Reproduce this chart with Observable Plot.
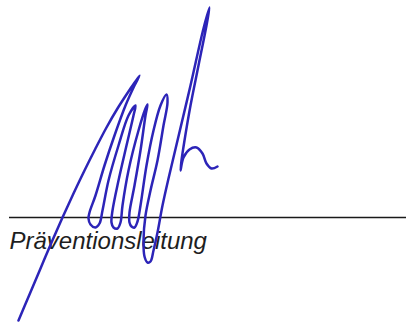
<!DOCTYPE html>
<html>
<head>
<meta charset="utf-8">
<script src="https://cdn.jsdelivr.net/npm/d3@7"></script>
<script src="https://cdn.jsdelivr.net/npm/@observablehq/plot@0.6"></script>
<style>
  html, body { margin: 0; padding: 0; background: #fff; }
  #chart svg { display: block; }
</style>
</head>
<body>
<div id="chart"></div>
<script>
// Signature stroke (pixel coordinates)
const sigX = [18,29,40,51,62,73,84,95,106,117,128,139,
  134,125,114,104,95,89,88,90,95,99,102,
  108,118,128,135,
  133,126,118,112,111,113,117,120,122,
  128,138,145,147,
  145,140,134,129,129,131,134,137,140,
  146,153,160,166,
  167,163,157,150,145,143,144,147,150,
  153,157,162,168,177,190,203,209,
  206,198,190,184,181,180,
  183,189,196,202,206,211,217];
const sigY = [320,294,268,242,217,193,170,148,127,108,91,75,
  85,105,135,165,195,212,218,224,227,223,210,
  180,145,115,105,
  115,145,180,210,222,227,228,222,205,
  170,130,108,104,
  115,150,185,212,222,226,227,221,205,
  165,130,105,94,
  102,125,160,190,215,240,256,262,261,
  250,232,205,178,140,85,28,7,
  25,65,105,140,160,170,
  157,149,147,153,163,168,166];

// Signature line
const lineY = [217];
const lineX1 = [9];
const lineX2 = [406];

// Caption
const labels = ["Präventionsleitung"];
const labelX = [9];
const labelY = [248];

const sig = sigX.map((x, i) => ({x, y: sigY[i]}));
const rule = lineY.map((y, i) => ({y, x1: lineX1[i], x2: lineX2[i]}));
const texts = labels.map((t, i) => ({t, x: labelX[i], y: labelY[i]}));

const chart = Plot.plot({
  width: 406,
  height: 322,
  margin: 0,
  x: {domain: [0, 406], axis: null},
  y: {domain: [0, 322], reverse: true, axis: null},
  style: {background: "#fff"},
  marks: [
    Plot.ruleY(rule, {y: "y", x1: "x1", x2: "x2", stroke: "#1a1a1a", strokeWidth: 1.5}),
    Plot.text(texts, {x: "x", y: "y", text: "t", textAnchor: "start", lineAnchor: "bottom",
      fontSize: 24, fontStyle: "italic", fontFamily: "Liberation Sans, Arial, sans-serif", fill: "#1e1e1e"}),
    Plot.line(sig, {x: "x", y: "y", curve: "catmull-rom", stroke: "#2c24b8", strokeWidth: 2.5, strokeLinejoin: "round", strokeLinecap: "round"})
  ]
});
document.getElementById("chart").appendChild(chart);
</script>
</body>
</html>
